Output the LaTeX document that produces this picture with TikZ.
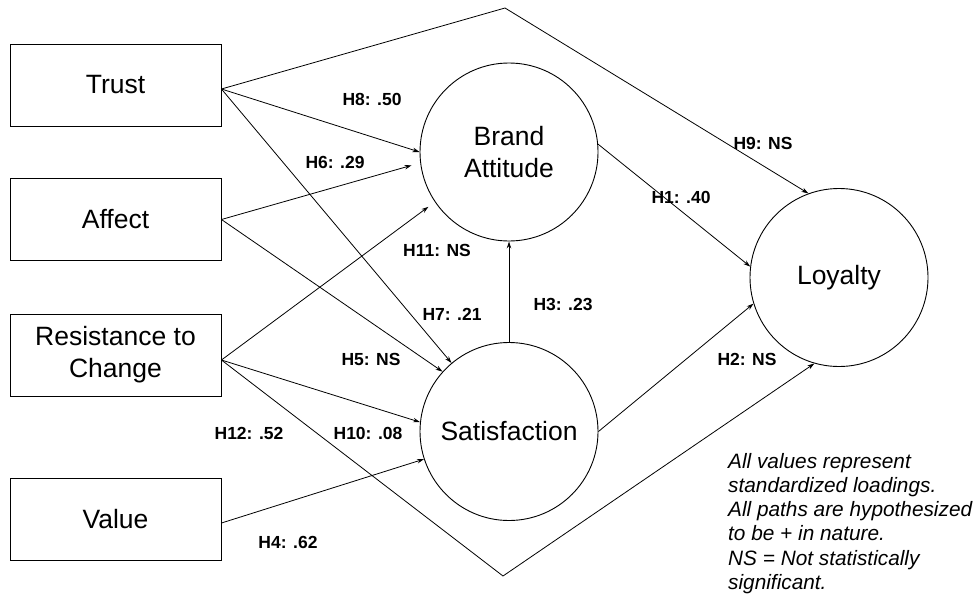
\documentclass[tikz,border=0pt]{standalone}
\usepackage{fontspec}
\setmainfont{Liberation Sans}
\usetikzlibrary{arrows.meta}
\begin{document}
\begin{tikzpicture}[x=1pt,y=-1pt,
  boxnode/.style={draw, line width=0.9pt, minimum width=211pt, minimum height=82pt, inner sep=0pt, align=center, font=\fontsize{26.5}{32}\selectfont},
  latent/.style={draw, line width=0.9pt, circle, minimum size=178pt, inner sep=0pt, align=center, font=\fontsize{26.5}{32}\selectfont},
  conn/.style={line width=0.8pt, -{Stealth[length=7pt,width=4.5pt]}},
  lab/.style={font=\bfseries\fontsize{17.5}{20}\selectfont, inner sep=0pt},
  notestyle/.style={font=\itshape\fontsize{20.8}{24.2}\selectfont, align=left, anchor=north west, inner sep=0pt}
]
\useasboundingbox (0,0) rectangle (979,594);

\node[boxnode] (trust) at (115.5,85) {Trust};
\node[boxnode] (affect) at (115.5,219.5) {Affect};
\node[boxnode] (resist) at (115.5,355) {Resistance to\\Change};
\node[boxnode] (value) at (115.5,519.5) {Value};
\node[latent] (brand) at (509,152) {Brand\\Attitude};
\node[latent] (satis) at (509,431.5) {Satisfaction};
\node[latent] (loyal) at (839,277.5) {Loyalty};

\coordinate (tS) at ([yshift=-4pt]trust.east);
\coordinate (aS) at (affect.east);
\coordinate (rS) at ([yshift=-5pt]resist.east);
\coordinate (vS) at ([yshift=-3.5pt]value.east);
\coordinate (top) at (505,8);
\coordinate (bot) at (503,576);

\draw[conn] (tS) -- (brand.180);
\draw[conn] (tS) -- (satis.130);
\draw[conn] (tS) -- (top) -- (loyal.110);
\draw[conn, shorten >=9pt] (aS) -- (brand.187);
\draw[conn] (aS) -- (satis.138);
\draw[conn, shorten >=8pt] (rS) -- (brand.214);
\draw[conn] (rS) -- (satis.174);
\draw[conn] (rS) -- (bot) -- (loyal.254);
\draw[conn] (vS) -- (satis.198);
\draw[conn] (satis.north) -- (brand.south);
\draw[conn] (brand.5) -- (loyal.173);
\draw[conn] (satis.east) -- (loyal.197);

\node[lab] (l8) at (372,99) {H8: .50};
\node[lab] (l6) at (335,162) {H6: .29};
\node[lab] (l11) at (437,250) {H11: NS};
\node[lab] (l9) at (763,143) {H9: NS};
\node[lab] (l1) at (681,197) {H1: .40};
\node[lab] (l7) at (452,314) {H7: .21};
\node[lab] (l5) at (371,359) {H5: NS};
\node[lab] (l3) at (563,304) {H3: .23};
\node[lab] (l2) at (747,359) {H2: NS};
\node[lab] (l12) at (249,433) {H12: .52};
\node[lab] (l10) at (368,433) {H10: .08};
\node[lab] (l4) at (288,542) {H4: .62};

\node[notestyle] (note) at (728,453) {All values represent\\standardized loadings.\\All paths are hypothesized\\to be + in nature.\\NS = Not statistically\\significant.};
\end{tikzpicture}
\end{document}
